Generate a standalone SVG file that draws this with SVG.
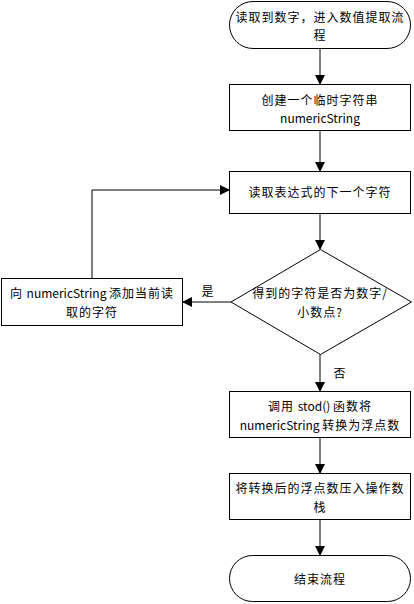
<svg xmlns="http://www.w3.org/2000/svg" width="414" height="604" viewBox="0 0 414 604">
<defs>
<marker id="ah" markerWidth="10" markerHeight="10" refX="9" refY="5" orient="auto" markerUnits="userSpaceOnUse"><path d="M0,0 L10,5 L0,10 Z" fill="#000"/></marker>
<style>
.n{fill:#fff;stroke:#000;stroke-width:1}
.t{font-family:"Noto Sans CJK SC","Microsoft YaHei",sans-serif;font-size:12px;fill:#000;text-anchor:middle;dominant-baseline:central;letter-spacing:1px}
.l{letter-spacing:0}
.c{fill:none;stroke:#000;stroke-width:1;marker-end:url(#ah)}
</style>
</defs>
<rect width="414" height="604" fill="#fff"/>
<g id="connectors">
<path class="c" d="M320,48 V84"/>
<path class="c" d="M320,130 V171"/>
<path class="c" d="M320,213 V249"/>
<path class="c" d="M231,302 H183"/>
<path class="c" d="M92,278 V190 H229"/>
<path class="c" d="M320,354 V391"/>
<path class="c" d="M320,437 V473"/>
<path class="c" d="M320,519 V555"/>
</g>
<g id="start"><rect class="n" x="229.5" y="1.5" width="181" height="47" rx="23.5"/><text class="t" x="320" y="16">读取到数字，进入数值提取流</text><text class="t" x="320" y="34">程</text></g>
<g id="create"><rect class="n" x="229.5" y="84.5" width="181" height="46"/><text class="t" x="320" y="99">创建一个临时字符串</text><text class="t l" x="320" y="117">numericString</text></g>
<g id="read"><rect class="n" x="229.5" y="171.5" width="181" height="42"/><text class="t" x="320" y="191">读取表达式的下一个字符</text></g>
<g id="decision"><polygon class="n" points="320.5,249.5 411.5,302 320.5,354.5 231,302"/><text class="t" x="320" y="292">得到的字符是否为数字/</text><text class="t" x="320" y="311">小数点?</text></g>
<g id="append"><rect class="n" x="1.5" y="278.5" width="181" height="47"/><text class="t" x="92" y="292">向 <tspan class="l">numericString </tspan>添加当前读</text><text class="t" x="92" y="311">取的字符</text></g>
<g id="stod"><rect class="n" x="229.5" y="391.5" width="181" height="46"/><text class="t" x="320" y="405">调用 <tspan class="l">stod() </tspan>函数将</text><text class="t" x="320" y="424"><tspan class="l">numericString </tspan>转换为浮点数</text></g>
<g id="push"><rect class="n" x="229.5" y="473.5" width="181" height="46"/><text class="t" x="320" y="487">将转换后的浮点数压入操作数</text><text class="t" x="320" y="506">栈</text></g>
<g id="end"><rect class="n" x="229.5" y="555.5" width="181" height="46" rx="23"/><text class="t" x="320" y="578">结束流程</text></g>
<text class="t" x="208" y="290">是</text>
<text class="t" x="340" y="372">否</text>
</svg>
